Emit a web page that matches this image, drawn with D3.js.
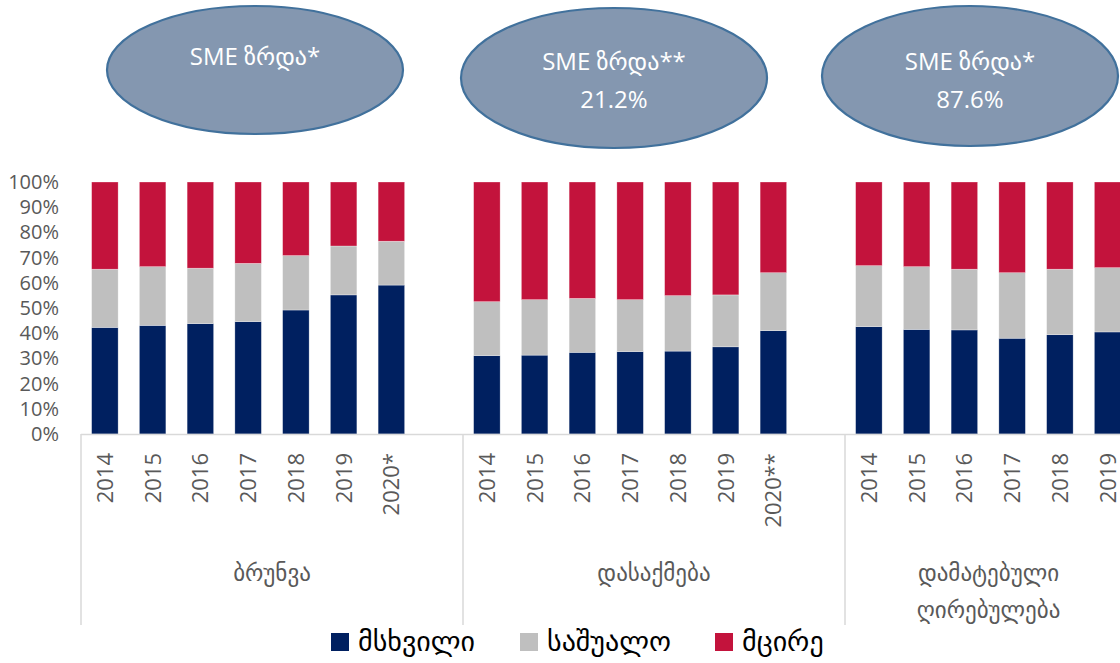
<!DOCTYPE html>
<html>
<head>
<meta charset="utf-8">
<script src="https://cdn.jsdelivr.net/npm/d3@7"></script>
<style>
  body { margin: 0; background: #fff; }
  text { font-family: "Open Sans", "DejaVu Sans", sans-serif; }
  .geo { font-family: "DejaVu Sans", sans-serif; }
</style>
</head>
<body>
<svg id="chart" width="1120" height="663"></svg>
<script>
//**************************************************************//
// Data

var groupNames = ["ბრუნვა", "დასაქმება", "დამატებული ღირებულება"];
var groupYears = [
	["2014", "2015", "2016", "2017", "2018", "2019", "2020*"],
	["2014", "2015", "2016", "2017", "2018", "2019", "2020**"],
	["2014", "2015", "2016", "2017", "2018", "2019"]
];
var largeShare  = [[42.3, 43.1, 43.8, 44.6, 49.2, 55.2, 59.1], [31.1, 31.3, 32.4, 32.7, 32.9, 34.6, 41.0], [42.6, 41.5, 41.3, 38.0, 39.4, 40.5]];
var mediumShare = [[23.1, 23.3, 22.0, 23.1, 21.6, 19.4, 17.4], [21.4, 22.0, 21.4, 20.6, 22.0, 20.6, 23.0], [24.2, 24.9, 24.1, 26.0, 26.0, 25.5]];
var smallShare  = [[34.6, 33.6, 34.2, 32.3, 29.2, 25.4, 23.5], [47.5, 46.7, 46.2, 46.7, 45.1, 44.8, 36.0], [33.2, 33.6, 34.6, 36.0, 34.6, 34.0]];
var seriesNames = ["მსხვილი", "საშუალო", "მცირე"];
var seriesKeys = ["large", "medium", "small"];
var seriesColors = ["#002060", "#bfbfbf", "#c3133c"];
var yTicks = [0, 10, 20, 30, 40, 50, 60, 70, 80, 90, 100];
var growthTitles = ["SME ზრდა*", "SME ზრდა**", "SME ზრდა*"];
var growthValues = ["", "21.2%", "87.6%"];

//**************************************************************//
// Layout

var width = 1120, height = 663;
var slotsPerGroup = 8;
var plotLeft = 81, slotWidth = 47.75;
var plotTop = 182, plotBottom = 434;

var svg = d3.select("#chart");

var slotKeys = [];
groupNames.forEach(function(g, gi){
	for(var i = 0; i < slotsPerGroup; i++) slotKeys.push(gi + "-" + i);
});

var xScale = d3.scaleBand()
	.domain(slotKeys)
	.range([plotLeft, plotLeft + slotKeys.length*slotWidth])
	.padding(0);

var yScale = d3.scaleLinear()
	.domain([0, 100])
	.range([plotBottom, plotTop]);

var barWidth = xScale.bandwidth()*0.555;

// rows for stacking
var rows = [];
groupYears.forEach(function(years, gi){
	years.forEach(function(y, i){
		rows.push({key : gi + "-" + i, year : y, large : largeShare[gi][i], medium : mediumShare[gi][i], small : smallShare[gi][i]});
	});
});

var stacked = d3.stack().keys(seriesKeys)(rows);

//**************************************************************//
// Y axis labels

var yAxis = d3.axisLeft(yScale)
	.tickValues(yTicks)
	.tickSize(0)
	.tickPadding(0)
	.tickFormat(function(d){ return d + "%"; });

var yAxisGroup = svg.append("g")
	.attr("transform", "translate(59,0)")
	.call(yAxis);
yAxisGroup.select(".domain").remove();
yAxisGroup.selectAll("text")
	.attr("fill", "#595959")
	.style("font-size", "20px")
	.style("font-family", "'Open Sans', sans-serif");

//**************************************************************//
// Bars

svg.append("g").selectAll("g")
	.data(stacked)
	.enter().append("g")
	.attr("fill", function(d, i){ return seriesColors[i]; })
	.selectAll("rect")
	.data(function(d){ return d; })
	.enter().append("rect")
	.attr("x", function(d){ return xScale(d.data.key) + (xScale.bandwidth() - barWidth)/2; })
	.attr("y", function(d){ return yScale(d[1]); })
	.attr("width", barWidth)
	.attr("height", function(d){ return yScale(d[0]) - yScale(d[1]); })
	.attr("stroke", "#ffffff")
	.attr("stroke-width", 0.6)
	.attr("stroke-opacity", 0.5);

//**************************************************************//
// Category axis

var axisColor = "#d9d9d9";
svg.append("line")
	.attr("x1", plotLeft)
	.attr("x2", width)
	.attr("y1", plotBottom + 0.5)
	.attr("y2", plotBottom + 0.5)
	.attr("stroke", axisColor)
	.attr("stroke-width", 1.5);

groupNames.forEach(function(g, gi){
	var gx = xScale(gi + "-0");
	svg.append("line")
		.attr("x1", gx)
		.attr("x2", gx)
		.attr("y1", plotBottom)
		.attr("y2", 625)
		.attr("stroke", axisColor)
		.attr("stroke-width", 1.5);
});

// year labels
svg.append("g").selectAll("text")
	.data(rows)
	.enter().append("text")
	.attr("transform", function(d){
		return "translate(" + (xScale(d.key) + xScale.bandwidth()/2 + 8) + "," + 453 + ") rotate(-90)";
	})
	.attr("text-anchor", "end")
	.attr("fill", "#595959")
	.style("font-size", "22px")
	.text(function(d){ return d.year; });

// group labels
groupNames.forEach(function(g, gi){
	var x0 = xScale(gi + "-0");
	var x1 = Math.min(x0 + slotsPerGroup*slotWidth, width);
	var cx = (x0 + x1)/2 + (gi == 2 ? 6 : 0);
	var words = g.split(" ");
	var label = svg.append("text")
		.attr("class", "geo")
		.attr("x", cx)
		.attr("y", 581)
		.attr("text-anchor", "middle")
		.attr("fill", "#595959")
		.style("font-size", "23px");
	words.forEach(function(w, wi){
		label.append("tspan")
			.attr("x", cx)
			.attr("dy", wi == 0 ? 0 : 37)
			.text(w);
	});
});

//**************************************************************//
// Growth ellipses

var ellipsePos = [
	{cx : 255, cy : 70, rx : 148, ry : 64, ty : 65},
	{cx : 614, cy : 78, rx : 153, ry : 70, ty : 70},
	{cx : 970, cy : 76, rx : 148, ry : 70, ty : 70}
];

growthTitles.forEach(function(t, i){
	var p = ellipsePos[i];
	var eg = svg.append("g");
	eg.append("ellipse")
		.attr("cx", p.cx)
		.attr("cy", p.cy)
		.attr("rx", p.rx)
		.attr("ry", p.ry)
		.attr("fill", "#8497b0")
		.attr("stroke", "#41719c")
		.attr("stroke-width", 2.2);
	eg.append("text")
		.attr("x", p.cx)
		.attr("y", p.ty)
		.attr("text-anchor", "middle")
		.attr("fill", "#ffffff")
		.style("font-size", "24px")
		.text(t);
	if(growthValues[i] != ""){
		eg.append("text")
			.attr("x", p.cx)
			.attr("y", p.ty + 38)
			.attr("text-anchor", "middle")
			.attr("fill", "#ffffff")
			.style("font-size", "24px")
			.text(growthValues[i]);
	}
});

//**************************************************************//
// Legend

var legendX = [331, 520, 715];
var legend = svg.append("g");
seriesNames.forEach(function(s, i){
	legend.append("rect")
		.attr("x", legendX[i])
		.attr("y", 633)
		.attr("width", 18)
		.attr("height", 18)
		.attr("fill", seriesColors[i]);
	legend.append("text")
		.attr("class", "geo")
		.attr("x", legendX[i] + 27)
		.attr("y", 651)
		.attr("fill", "#000000")
		.style("font-size", "28px")
		.text(s);
});
</script>
</body>
</html>
